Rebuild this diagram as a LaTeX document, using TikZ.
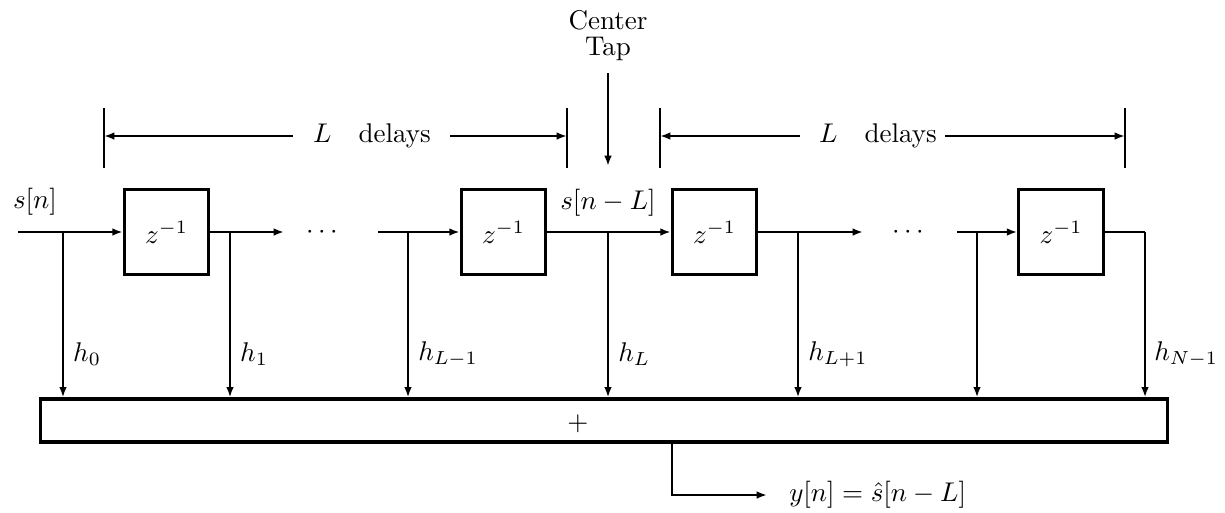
\documentclass[tikz,border=0pt]{standalone}
\usetikzlibrary{arrows.meta}
\begin{document}
\begin{tikzpicture}[x=0.013cm,y=-0.013cm,
  sig/.style={line width=0.8pt},
  arr/.style={sig,-{Latex[length=3.8pt,width=2.8pt]}},
  dbox/.style={draw,line width=1.1pt,minimum width=1.1cm,minimum height=1.11cm,inner sep=0pt},
  sumbox/.style={draw,line width=1.2pt,minimum width=14.66cm,minimum height=0.56cm,inner sep=0pt},
  lbl/.style={inner sep=1pt}]
\useasboundingbox (0,0) rectangle (1225,512);
% delay boxes
\node[dbox] (b1) at (166.5,232) {$z^{-1}$};
\node[dbox] (b2) at (503.5,232) {$z^{-1}$};
\node[dbox] (b3) at (714.5,232) {$z^{-1}$};
\node[dbox] (b4) at (1061,232) {$z^{-1}$};
\node[sumbox] (sum) at (604,420.5) {};
\node (plus) at (578,424) {$+$};
% signal coordinates
\coordinate (in) at (18,232);
\coordinate (t0) at (63,232);
\coordinate (t1) at (230,232);
\coordinate (a1) at (284,232);
\node (d1) at (322,232) {$\cdots$};
\coordinate (s2) at (378,232);
\coordinate (t2) at (408,232);
\coordinate (t3) at (608,232);
\coordinate (t4) at (798,232);
\coordinate (a4) at (863,232);
\node (d2) at (908,232) {$\cdots$};
\coordinate (s5) at (957,232);
\coordinate (t5) at (977,232);
\coordinate (t6) at (1145,232);
% main line
\draw[arr] (in) -- (b1.west);
\draw[arr] (b1.east) -- (a1);
\draw[arr] (s2) -- (b2.west);
\draw[arr] (b2.east) -- (b3.west);
\draw[arr] (b3.east) -- (a4);
\draw[arr] (s5) -- (b4.west);
\draw[sig] (b4.east) -- (t6);
% taps
\foreach \t in {t0,t1,t2,t3,t4,t5,t6}
  \draw[arr] (\t) -- (\t |- sum.north);
% tap labels
\node[lbl,anchor=west] (h0) at (70,354) {$h_0$};
\node[lbl,anchor=west] (h1) at (237,354) {$h_1$};
\node[lbl,anchor=west] (h2) at (415,354) {$h_{L-1}$};
\node[lbl,anchor=west] (h3) at (615,354) {$h_L$};
\node[lbl,anchor=west] (h4) at (805,354) {$h_{L+1}$};
\node[lbl,anchor=west] (h5) at (1151,354) {$h_{N-1}$};
% signal labels
\node (sn) at (35,202) {$s[n]$};
\node (snl) at (608,203) {$s[n-L]$};
% output
\coordinate (o1) at (672,495);
\node[lbl,anchor=west] (out) at (786,495) {$y[n]=\hat{s}[n-L]$};
\draw[arr] (sum.south -| o1) -- (o1) -- (767,495);
% center tap
\node (ctr) at (608,20) {Center};
\node (tap) at (608,49) {Tap};
\coordinate (ct1) at (608,73);
\coordinate (ct2) at (608,166);
\draw[arr] (ct1) -- (ct2);
% brackets
\coordinate (k1t) at (104,108); \coordinate (k1b) at (104,168);
\coordinate (k2t) at (567,108); \coordinate (k2b) at (567,168);
\coordinate (k3t) at (660,108); \coordinate (k3b) at (660,168);
\coordinate (k4t) at (1125,108); \coordinate (k4b) at (1125,168);
\draw[sig] (k1t) -- (k1b);
\draw[sig] (k2t) -- (k2b);
\draw[sig] (k3t) -- (k3b);
\draw[sig] (k4t) -- (k4b);
\node (ld1) at (372,136) {$L\quad$delays};
\node (ld2) at (878,136) {$L\quad$delays};
\draw[arr] (293,136) -- (104,136);
\draw[arr] (450,136) -- (567,136);
\draw[arr] (800,136) -- (660,136);
\draw[arr] (945,136) -- (1125,136);
\end{tikzpicture}
\end{document}
